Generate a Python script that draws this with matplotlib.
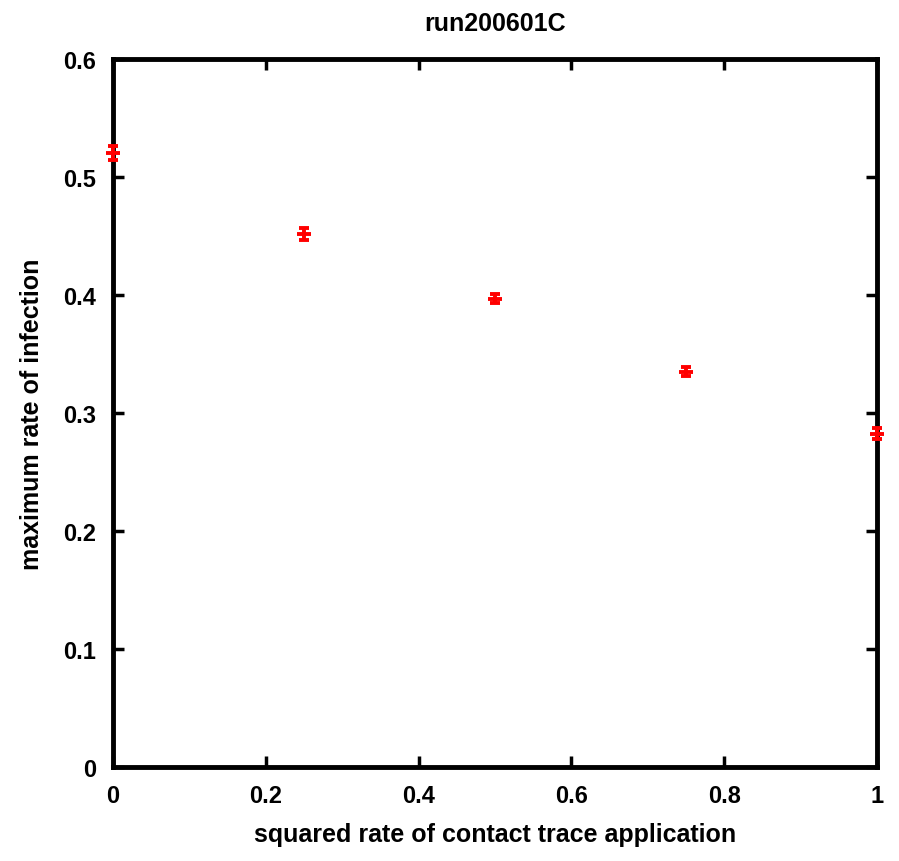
import numpy as np
import matplotlib.pyplot as plt

# data
x = [0.0, 0.25, 0.5, 0.75, 1.0]
y = [0.5203, 0.4515, 0.397, 0.335, 0.2825]
yerr = [0.0058, 0.005, 0.0042, 0.0038, 0.0048]

xticks = [0, 0.2, 0.4, 0.6, 0.8, 1]
xticklabels = ['0', '0.2', '0.4', '0.6', '0.8', '1']
yticks = [0, 0.1, 0.2, 0.3, 0.4, 0.5, 0.6]
yticklabels = ['0', '0.1', '0.2', '0.3', '0.4', '0.5', '0.6']

plt.rcParams['font.family'] = ['Liberation Sans', 'DejaVu Sans']
plt.rcParams['font.weight'] = 'bold'

fig = plt.figure(figsize=(8.99, 8.62), dpi=100)
ax = fig.add_axes([113/899, 94/862, 764/899, 708/862])

ax.errorbar(x, y, yerr=yerr, fmt='_', color='red', ecolor='red',
            markersize=10, markeredgewidth=2.8, elinewidth=2.8,
            capsize=3.5, capthick=2.8, clip_on=False, zorder=5)

ax.set_xlim(0, 1)
ax.set_ylim(0, 0.6)
ax.set_xticks(xticks)
ax.set_xticklabels(xticklabels)
ax.set_yticks(yticks)
ax.set_yticklabels(yticklabels)
ax.tick_params(direction='in', length=8, width=2.5, top=True, right=True,
               labelsize=17, pad=12)

for s in ax.spines.values():
    s.set_linewidth(3.5)

ax.set_title('run200601C', fontsize=18, fontweight='bold', pad=21)
ax.set_xlabel('squared rate of contact trace application', fontsize=18,
              fontweight='bold', labelpad=11)
ax.set_ylabel('maximum rate of infection', fontsize=18, fontweight='bold',
              labelpad=14)

fig.savefig('out.png', dpi=100)
